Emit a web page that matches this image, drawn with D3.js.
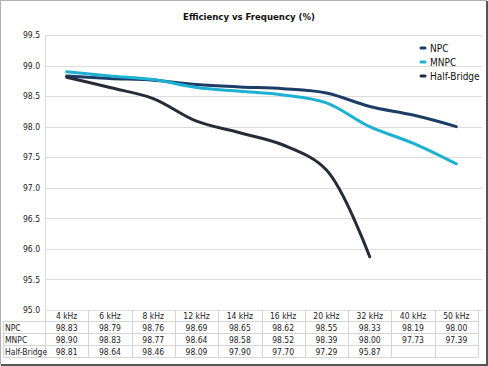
<!DOCTYPE html>
<html>
<head>
<meta charset="utf-8">
<script src="https://cdn.jsdelivr.net/npm/d3@7"></script>
<style>
  body { margin: 0; background: #fff; }
  svg { display: block; font-family: "DejaVu Sans Condensed", "DejaVu Sans", sans-serif; }
</style>
</head>
<body>
<div class="chart"></div>
<script>
// data
var categories = ['4 kHz','6 kHz','8 kHz','12 kHz','14 kHz','16 kHz','20 kHz','32 kHz','40 kHz','50 kHz'];
var npc        = [98.83, 98.79, 98.76, 98.69, 98.65, 98.62, 98.55, 98.33, 98.19, 98.00];
var mnpc       = [98.90, 98.83, 98.77, 98.64, 98.58, 98.52, 98.39, 98.00, 97.73, 97.39];
var halfBridge = [98.81, 98.64, 98.46, 98.09, 97.90, 97.70, 97.29, 95.87, null, null];
var yTicks     = [95.0, 95.5, 96.0, 96.5, 97.0, 97.5, 98.0, 98.5, 99.0, 99.5];

var series = [
  { name: 'NPC', values: npc, color: '#1c3d66' },
  { name: 'MNPC', values: mnpc, color: '#1eb0d2' },
  { name: 'Half-Bridge', values: halfBridge, color: '#262b38' }
];

var W = 488, H = 366;
var plotL = 45, plotR = 478, plotT = 35, plotB = 310;

var x = d3.scaleBand().domain(categories).range([plotL, plotR]);
var y = d3.scaleLinear().domain([95, 99.5]).range([plotB, plotT]);

var svg = d3.select('.chart').append('svg')
  .attr('width', W).attr('height', H);

// frame
svg.append('rect').attr('x', 0.5).attr('y', 0.5).attr('width', W - 2).attr('height', H - 2)
  .attr('fill', '#fff').attr('stroke', '#b0b0b0');
svg.append('line').attr('x1', W - 1).attr('x2', W - 1).attr('y1', 1).attr('y2', H)
  .attr('stroke', '#555').attr('stroke-width', 2);
svg.append('line').attr('x1', 1).attr('x2', W).attr('y1', H - 1).attr('y2', H - 1)
  .attr('stroke', '#555').attr('stroke-width', 2);

// title
svg.append('text')
  .attr('x', 249).attr('y', 20)
  .attr('text-anchor', 'middle')
  .attr('font-size', 9.5).attr('font-weight', 'bold')
  .attr('fill', '#111')
  .text('Efficiency vs Frequency (%)');

// gridlines
svg.append('g').selectAll('line')
  .data(yTicks)
  .enter().append('line')
  .attr('x1', plotL).attr('x2', 482)
  .attr('y1', function(d){ return Math.round(y(d)) + 0.5; })
  .attr('y2', function(d){ return Math.round(y(d)) + 0.5; })
  .attr('stroke', '#dcdcdc');

svg.append('line')
  .attr('x1', plotL + 0.5).attr('x2', plotL + 0.5)
  .attr('y1', plotT).attr('y2', plotB)
  .attr('stroke', '#dcdcdc');

// y axis labels
var yAxis = d3.axisLeft(y).tickValues(yTicks).tickFormat(d3.format('.1f')).tickSize(0).tickPadding(5);
var ya = svg.append('g').attr('transform', 'translate(' + plotL + ',0)').call(yAxis);
ya.select('.domain').remove();
ya.selectAll('text').attr('font-size', 8.5).attr('fill', '#222')
  .attr('font-family', '"DejaVu Sans Condensed", sans-serif');

// lines
var line = d3.line()
  .defined(function(d){ return d != null; })
  .x(function(d, i){ return x(categories[i]) + x.bandwidth() / 2; })
  .y(function(d){ return y(d); })
  .curve(d3.curveCatmullRom.alpha(0.5));

svg.append('g').selectAll('path')
  .data(series)
  .enter().append('path')
  .attr('fill', 'none')
  .attr('stroke', function(d){ return d.color; })
  .attr('stroke-width', 3)
  .attr('stroke-linecap', 'round')
  .attr('d', function(d){ return line(d.values); });

// legend
var legend = svg.append('g').selectAll('g')
  .data(series)
  .enter().append('g')
  .attr('transform', function(d, i){ return 'translate(421,' + (48 + i * 14) + ')'; });
legend.append('line')
  .attr('x1', 0).attr('x2', 4).attr('y1', 0).attr('y2', 0)
  .attr('stroke', function(d){ return d.color; })
  .attr('stroke-width', 3).attr('stroke-linecap', 'round');
legend.append('text')
  .attr('x', 9).attr('y', 3.5)
  .attr('font-size', 10).attr('fill', '#111')
  .text(function(d){ return d.name; });

// data table
var rowH = 12, tableTop = plotB, firstCol = 3;
var table = svg.append('g');

categories.concat(['end']).forEach(function(c, i){
  var xx = i < categories.length ? x(c) : plotR;
  table.append('line')
    .attr('x1', Math.round(xx) + 0.5).attr('x2', Math.round(xx) + 0.5)
    .attr('y1', tableTop).attr('y2', tableTop + rowH * 4 - 1)
    .attr('stroke', '#d4d4d4');
});
d3.range(1, 5).forEach(function(r){
  table.append('line')
    .attr('x1', firstCol).attr('x2', plotR)
    .attr('y1', tableTop + r * rowH - 0.5).attr('y2', tableTop + r * rowH - 0.5)
    .attr('stroke', '#d4d4d4');
});
table.append('line')
  .attr('x1', firstCol + 0.5).attr('x2', firstCol + 0.5)
  .attr('y1', tableTop + rowH).attr('y2', tableTop + rowH * 4 - 1)
  .attr('stroke', '#d4d4d4');

table.selectAll('.hdr')
  .data(categories)
  .enter().append('text')
  .attr('x', function(d){ return x(d) + x.bandwidth() / 2; })
  .attr('y', tableTop + 9)
  .attr('text-anchor', 'middle')
  .attr('font-size', 8.5).attr('fill', '#222')
  .text(function(d){ return d; });

series.forEach(function(s, r){
  var ry = tableTop + (r + 1) * rowH + 9;
  table.append('text')
    .attr('x', 5).attr('y', ry)
    .attr('font-size', 8.5).attr('fill', '#222')
    .text(s.name);
  s.values.forEach(function(v, i){
    if (v == null) return;
    table.append('text')
      .attr('x', x(categories[i]) + x.bandwidth() / 2)
      .attr('y', ry)
      .attr('text-anchor', 'middle')
      .attr('font-size', 8.5).attr('fill', '#222')
      .text(d3.format('.2f')(v));
  });
});
</script>
</body>
</html>
